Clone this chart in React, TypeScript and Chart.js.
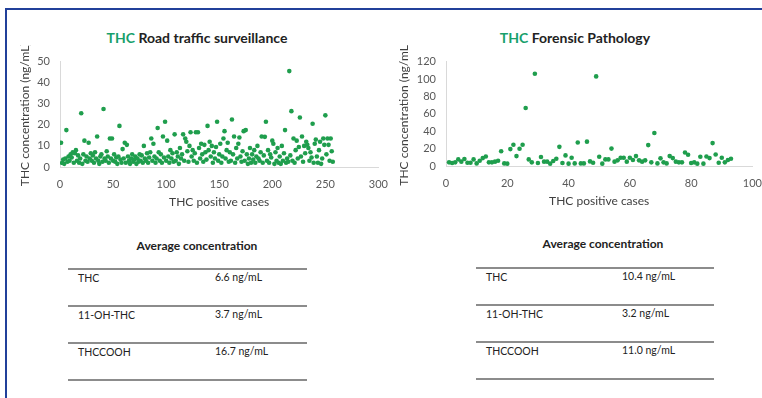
import React, { useEffect, useRef } from 'react';
import { Chart, registerables } from 'chart.js';

Chart.register(...registerables);

// ---- data ----
const roadThc = [
  11.5, 2, 3.5, 1.5, 4, 17.5, 2.5, 5, 3, 6,
  4.5, 7, 2, 6.5, 8, 3, 5.5, 2, 4, 25.5,
  1.5, 6, 12.5, 3, 5, 2.5, 11.5, 4, 6.5, 3,
  5.5, 2, 7, 4, 14.5, 3, 1.5, 5, 6, 2.5,
  27.5, 4, 3, 7.5, 5, 2, 13.5, 4, 13.5, 3,
  6, 2.5, 4.5, 1.5, 5, 19.5, 3.5, 2, 8.5, 4,
  11.5, 2, 10.5, 5, 3, 1.5, 4, 6, 2.5, 3.5,
  5, 1.5, 4, 2.5, 6, 3, 5.5, 2, 10, 4,
  3, 6.5, 2, 4.5, 7, 13.5, 3, 11, 5, 2,
  4, 18.5, 7, 3, 6, 2, 14.5, 4.5, 21.5, 3,
  12.5, 5, 2, 8, 4, 6.5, 2.5, 15.5, 3, 7,
  5, 1.5, 9, 4, 6, 15.5, 3, 13.5, 12, 7.5,
  2.5, 10, 16.5, 5, 8, 3, 6.5, 16.5, 2, 16.5,
  9, 4, 11, 6, 2.5, 10.5, 7, 3.5, 19.5, 8,
  12, 5, 10, 2, 7, 4, 9.5, 21.5, 3, 6,
  11, 2, 5, 13.5, 17, 4, 8, 11.5, 2.5, 7,
  3, 22.5, 6, 14.5, 2, 9, 4, 11, 14, 5,
  2.5, 7.5, 17, 3, 17.5, 6, 1.5, 4, 9, 2,
  6, 3.5, 8, 2, 5, 10, 4, 3, 7, 14.5,
  2, 5.5, 14.3, 21.5, 3, 8, 2, 6, 4.5, 12.5,
  11, 1.5, 7, 3, 9, 2, 5, 1.5, 10, 3,
  6.5, 17.5, 2, 4, 2.5, 45.5, 5.5, 26.5, 3, 13.5,
  2, 8, 12.5, 4, 9.5, 23.5, 5, 14.5, 2.5, 10,
  6.5, 12, 10.5, 9, 3, 7, 4.5, 20.5, 2, 11,
  13, 5, 2, 8, 12, 1.5, 4, 13.5, 10.5, 24.5,
  6, 13.5, 10.5, 3, 13.5, 7.5, 2.5,
];

const pathThc = [
  4.2, 3.4, 4.2, 7.6, 5, 8, 3.8, 3.8, 7.6, 3,
  6.1, 9.1, 11, 4.2, 4.2, 5, 6.1, 17, 3, 2.7,
  19.4, 24.4, 11.4, 19.8, 24.4, 66.7, 7.6, 4.2, 106, 3.4,
  10.3, 5, 5, 2.7, 5.7, 8.4, 22, 3.4, 12.2, 2.7,
  9.5, 3, 27, 3, 3, 28, 5.3, 3.8, 103, 10.7,
  2.7, 7.6, 7.6, 20, 5, 6.5, 9.5, 9.5, 5, 9.5,
  6.9, 11.4, 6.5, 5, 6.5, 24, 4.2, 38, 3, 8.8,
  4.2, 3, 11.4, 9.1, 5, 4.2, 4.2, 15.6, 13, 3.4,
  4.2, 2.7, 10.7, 2.7, 11, 9.1, 26.3, 13.3, 3.8, 9.5,
  4.2, 6.9, 8.4,
];

const roadXAxis = [0, 300, 50]; // min, max, step
const roadYAxis = [0, 50, 10];
const pathXAxis = [0, 100, 20];
const pathYAxis = [0, 120, 20];

const roadTitle = 'Road traffic surveillance';
const pathTitle = 'Forensic Pathology';
const titlePrefix = 'THC';
const xAxisTitle = 'THC positive cases';
const yAxisTitle = 'THC concentration (ng/mL)';

const tableTitle = 'Average concentration';
const analytes = ['THC', '11-OH-THC', 'THCCOOH'];
const roadAverages = ['6.6 ng/mL', '3.7 ng/mL', '16.7 ng/mL'];
const pathAverages = ['10.4 ng/mL', '3.2 ng/mL', '11.0 ng/mL'];

// ---- styles ----
const FONT = 'Lato, "Open Sans", "DejaVu Sans", sans-serif';
const POINT = '#1f9e4d';
const TITLE_GREEN = '#17a06c';

type ScatterProps = {
  values: number[];
  xAxis: number[];
  yAxis: number[];
  left: number;
  top: number;
  width: number;
  height: number;
  yAxisWidth: number;
  yTitlePad: number;
};

function Scatter(p: ScatterProps) {
  const ref = useRef<HTMLCanvasElement | null>(null);
  useEffect(() => {
    if (!ref.current) return;
    const data = p.values.map((v, i) => ({ x: i + 1, y: v }));
    const chart = new Chart(ref.current, {
      type: 'scatter',
      data: {
        datasets: [
          {
            data,
            backgroundColor: POINT,
            borderColor: POINT,
            borderWidth: 0,
            pointRadius: 2.3,
          },
        ],
      },
      options: {
        responsive: false,
        animation: false,
        devicePixelRatio: 1,
        layout: { padding: { top: 16, left: 0, right: 0, bottom: 0 } },
        plugins: { legend: { display: false }, tooltip: { enabled: false } },
        scales: {
          x: {
            type: 'linear',
            min: p.xAxis[0],
            max: p.xAxis[1],
            grid: { display: false, drawTicks: false },
            border: { display: true, color: '#d9d9d9', width: 1 },
            ticks: {
              stepSize: p.xAxis[2],
              padding: 11,
              color: '#595959',
              font: { family: FONT, size: 11 },
              maxRotation: 0,
            },
            title: {
              display: true,
              text: xAxisTitle,
              color: '#404040',
              font: { family: FONT, size: 12 },
              padding: { top: 4, bottom: 6 },
            },
            afterFit: (s: any) => {
              s.height = 48;
            },
          },
          y: {
            type: 'linear',
            min: p.yAxis[0],
            max: p.yAxis[1],
            grid: { display: false, drawTicks: false },
            border: { display: true, color: '#d9d9d9', width: 1 },
            ticks: {
              stepSize: p.yAxis[2],
              padding: 10,
              color: '#595959',
              font: { family: FONT, size: 11 },
            },
            title: {
              display: true,
              text: yAxisTitle,
              color: '#404040',
              font: { family: FONT, size: 12 },
              padding: { top: p.yTitlePad, bottom: 0 },
            },
            afterFit: (s: any) => {
              s.width = p.yAxisWidth;
            },
          },
        },
      },
    });
    return () => chart.destroy();
  }, []);
  return (
    <canvas
      ref={ref}
      width={p.width}
      height={p.height}
      style={{ position: 'absolute', left: p.left, top: p.top, width: p.width, height: p.height }}
    />
  );
}

function Title({ cx, text }: { cx: number; text: string }) {
  return (
    <div
      style={{
        position: 'absolute',
        left: cx - 150,
        width: 300,
        top: 30,
        textAlign: 'center',
        fontSize: 14,
        fontWeight: 700,
        lineHeight: '16px',
        color: '#222',
        whiteSpace: 'nowrap',
      }}
    >
      <span style={{ color: TITLE_GREEN }}>{titlePrefix}</span> {text}
    </div>
  );
}

type TableProps = {
  cx: number;
  headerY: number;
  lineYs: number[];
  x0: number;
  x1: number;
  col1: number;
  col2: number;
  values: string[];
};

function AvgTable(t: TableProps) {
  return (
    <>
      <div
        style={{
          position: 'absolute',
          left: t.cx - 100,
          width: 200,
          top: t.headerY - 8,
          height: 16,
          lineHeight: '16px',
          textAlign: 'center',
          fontSize: 12,
          fontWeight: 700,
          color: '#222',
        }}
      >
        {tableTitle}
      </div>
      {t.lineYs.map((y, i) => (
        <div
          key={'l' + i}
          style={{ position: 'absolute', left: t.x0, width: t.x1 - t.x0, top: y, height: 1.5, background: '#8c8c8c' }}
        />
      ))}
      {analytes.map((a, i) => (
        <React.Fragment key={'r' + i}>
          <div
            style={{
              position: 'absolute',
              left: t.col1,
              top: t.lineYs[i] + 4,
              fontSize: 10.5,
              lineHeight: '13px',
              color: '#222',
              whiteSpace: 'nowrap',
            }}
          >
            {a}
          </div>
          <div
            style={{
              position: 'absolute',
              left: t.col2,
              top: t.lineYs[i] + 3,
              fontSize: 10.5,
              lineHeight: '13px',
              color: '#222',
              whiteSpace: 'nowrap',
            }}
          >
            {t.values[i]}
          </div>
        </React.Fragment>
      ))}
    </>
  );
}

export default function App() {
  return (
    <div
      style={{
        position: 'fixed',
        left: 0,
        top: 0,
        width: 762,
        height: 398,
        background: '#fff',
        overflow: 'hidden',
        fontFamily: FONT,
      }}
    >
      <div style={{ position: 'absolute', left: 5, top: 8, width: 757, height: 2, background: '#21409a' }} />
      <div style={{ position: 'absolute', left: 5, top: 8, width: 2, height: 390, background: '#21409a' }} />

      <Title cx={197} text={roadTitle} />
      <Title cx={575} text={pathTitle} />

      <Scatter values={roadThc} xAxis={roadXAxis} yAxis={roadYAxis} left={0} top={45} width={399} height={170} yAxisWidth={60} yTitlePad={18} />
      <Scatter values={pathThc} xAxis={pathXAxis} yAxis={pathYAxis} left={380} top={45} width={393} height={169} yAxisWidth={66} yTitlePad={17} />

      <AvgTable cx={197} headerY={246} lineYs={[268, 305, 342, 379]} x0={68} x1={307} col1={78} col2={215} values={roadAverages} />
      <AvgTable cx={603} headerY={244} lineYs={[267, 304, 341, 378]} x0={476} x1={714} col1={486} col2={622} values={pathAverages} />
    </div>
  );
}
